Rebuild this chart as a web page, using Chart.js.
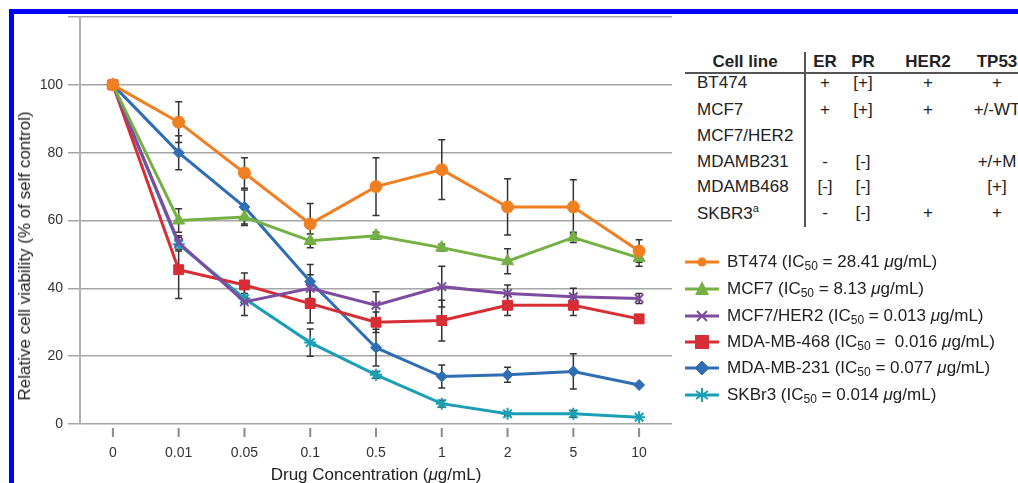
<!DOCTYPE html>
<html>
<head>
<meta charset="utf-8">
<script src="https://cdn.jsdelivr.net/npm/chart.js@4.4.0/dist/chart.umd.min.js"></script>
<style>
  body { margin: 0; background: #fff; font-family: "Liberation Sans", Arial, sans-serif; color: #222; }
  #wrap { position: relative; width: 1018px; height: 483px; overflow: hidden; }
  #plot { position: absolute; left: 0; top: 0; width: 690px; height: 483px; }
  #frame { position: absolute; left: 9px; top: 9px; width: 1020px; height: 480px;
    border-top: 5px solid #0000ff; border-left: 5px solid #0000ff; pointer-events: none; }
  #ytitle { position: absolute; left: 25px; top: 256px; font-size: 17px; white-space: nowrap;
    transform: translate(-50%, -50%) rotate(-90deg); color: #222; }
  #xtitle { position: absolute; left: 376px; top: 475px; font-size: 17px; white-space: nowrap;
    transform: translate(-50%, -50%); color: #222; }
  .t { position: absolute; font-size: 17px; white-space: nowrap; transform: translate(-50%, -50%); }
  .tl { position: absolute; font-size: 17px; white-space: nowrap; transform: translateY(-50%); }
  .hdr { font-weight: bold; }
  .rule { position: absolute; background: #555; }
  .leg { position: absolute; left: 685px; height: 20px; display: flex; align-items: center; font-size: 17px; white-space: nowrap; transform: translateY(-50%); }
  .leg svg { margin-right: 8px; }
  sub { font-size: 12px; vertical-align: -3px; line-height: 0; }
</style>
</head>
<body>
<div id="wrap">
  <div id="plot"><canvas id="chart"></canvas></div>
  <div id="ytitle">Relative cell viability (% of self control)</div>
  <div id="xtitle">Drug Concentration (<i>&mu;</i>g/mL)</div>
  <div id="table"></div>
  <div id="legend"></div>
  <div id="frame"></div>
</div>
<script>
// x categories (drug concentration, ug/mL)
const concentrations = ["0", "0.01", "0.05", "0.1", "0.5", "1", "2", "5", "10"];
const yTicks = [0, 20, 40, 60, 80, 100, 120];

// viability (% of self control) and error bars
const bt474 = [100, 89, 74, 59, 70, 75, 64, 64, 51];
const bt474Err = [0, 6, 4.5, 6, 8.5, 8.8, 8.3, 8, 3.3];
const mcf7 = [100, 60, 61, 54, 55.5, 52, 48, 55, 49];
const mcf7Err = [0, 3.5, 2.5, 2, 1, 1, 3.7, 1.5, 2.5];
const mcf7her2 = [100, 53.5, 36, 40, 35, 40.5, 38.5, 37.5, 37];
const mcf7her2Err = [0, 2, 4, 4, 4, 6, 2.5, 2.5, 1.5];
const mda468 = [100, 45.5, 41, 35.5, 30, 30.5, 35, 35, 31];
const mda468Err = [0, 8.5, 3.5, 5.7, 3, 6, 3, 3, 0];
const mda231 = [100, 80, 64, 42, 22.5, 14, 14.5, 15.5, 11.5];
const mda231Err = [0, 5, 5, 5, 5.4, 3.4, 2.2, 5.2, 0];
const skbr3 = [100, 53, 37, 24, 14.5, 6, 3, 3, 2];
const skbr3Err = [0, 2, 1.5, 4, 1, 1, 0.5, 1, 0];

const seriesNames = ["BT474", "MCF7", "MCF7/HER2", "MDA-MB-468", "MDA-MB-231", "SKBr3"];
const ic50 = ["28.41", "8.13", "0.013", "\u00a00.016", "0.077", "0.014"];

// table at top right
const tableCols = ["ER", "PR", "HER2", "TP53"];
const tableRows = ["BT474", "MCF7", "MCF7/HER2", "MDAMB231", "MDAMB468", "SKBR3<sup style='font-size:11px'>a</sup>"];
const tableCells = [
  ["+", "[+]", "+", "+"],
  ["+", "[+]", "+", "+/-WT"],
  ["", "", "", ""],
  ["-", "[-]", "", "+/+M"],
  ["[-]", "[-]", "", "[+]"],
  ["-", "[-]", "+", "+"],
];

const colors = ["#f07f22", "#74b043", "#7d4c9f", "#d72d35", "#2f6eb5", "#1a9fb5"];
const shapes = ["circle", "triangle", "crossRot", "rect", "rectRot", "star"];
const radii = [6, 7, 6, 7, 5.5, 6];
const allData = [bt474, mcf7, mcf7her2, mda468, mda231, skbr3];
const allErr = [bt474Err, mcf7Err, mcf7her2Err, mda468Err, mda231Err, skbr3Err];

const errorBars = {
  id: "errorBars",
  beforeDatasetsDraw(chart) {
    const { ctx, scales: { x, y } } = chart;
    ctx.save();
    ctx.strokeStyle = "#333";
    ctx.lineWidth = 1.5;
    allData.forEach((vals, i) => {
      vals.forEach((v, j) => {
        const e = allErr[i][j];
        if (!e) return;
        const px = x.getPixelForValue(j);
        const y1 = y.getPixelForValue(v + e);
        const y2 = y.getPixelForValue(v - e);
        ctx.beginPath();
        ctx.moveTo(px, y1); ctx.lineTo(px, y2);
        ctx.moveTo(px - 3.5, y1); ctx.lineTo(px + 3.5, y1);
        ctx.moveTo(px - 3.5, y2); ctx.lineTo(px + 3.5, y2);
        ctx.stroke();
      });
    });
    ctx.restore();
  },
};

// small detached tick marks under the x axis
const xTickMarks = {
  id: "xTickMarks",
  afterDraw(chart) {
    const { ctx, scales: { x }, chartArea } = chart;
    ctx.save();
    ctx.strokeStyle = "#8a8a8a";
    ctx.lineWidth = 2;
    concentrations.forEach((c, j) => {
      const px = x.getPixelForValue(j);
      ctx.beginPath();
      ctx.moveTo(px, chartArea.bottom + 4);
      ctx.lineTo(px, chartArea.bottom + 13);
      ctx.stroke();
    });
    ctx.restore();
  },
};

const chart = new Chart(document.getElementById("chart"), {
  type: "line",
  data: {
    labels: concentrations,
    datasets: allData.map((d, i) => ({
      label: seriesNames[i],
      data: d,
      borderColor: colors[i],
      backgroundColor: colors[i],
      borderWidth: 3,
      pointStyle: shapes[i],
      pointRadius: radii[i],
      pointBorderColor: colors[i],
      pointBackgroundColor: colors[i],
      pointBorderWidth: shapes[i] === "crossRot" || shapes[i] === "star" ? 2 : 1,
      tension: 0,
    })),
  },
  options: {
    responsive: true,
    maintainAspectRatio: false,
    animation: false,
    layout: { padding: { top: 17, right: 18, left: 0, bottom: 0 } },
    plugins: { legend: { display: false }, tooltip: { enabled: false } },
    scales: {
      x: {
        offset: true,
        afterFit: (s) => { s.height = 59; },
        grid: { display: false, drawTicks: false },
        border: { display: false },
        ticks: { color: "#333", padding: 21, font: { family: "Liberation Sans", size: 14 } },
      },
      y: {
        min: 0,
        max: 120,
        afterFit: (s) => { s.width = 80; },
        afterBuildTicks: (s) => { s.ticks = yTicks.map((v) => ({ value: v })); },
        grid: { color: "#a6a6a6", lineWidth: 1.5, tickLength: 12 },
        border: { color: "#b0b0b0", width: 2 },
        ticks: {
          color: "#333",
          padding: 5,
          font: { family: "Liberation Sans", size: 14 },
          callback: (v) => (v === 120 ? "" : v),
        },
      },
    },
  },
  plugins: [errorBars, xTickMarks],
});

// table
const table = document.getElementById("table");
let html = "";
const colX = [825, 863, 928, 997];
const rowY = [83, 110, 136, 162, 187, 213];
html += `<div class="t hdr" style="left:745px;top:62px">Cell line</div>`;
tableCols.forEach((c, k) => { html += `<div class="t hdr" style="left:${colX[k]}px;top:62px">${c}</div>`; });
tableRows.forEach((r, i) => {
  html += `<div class="tl" style="left:697px;top:${rowY[i]}px">${r}</div>`;
  tableCells[i].forEach((c, k) => {
    if (c) html += `<div class="t" style="left:${colX[k]}px;top:${rowY[i]}px">${c}</div>`;
  });
});
html += `<div class="rule" style="left:685px;top:72px;width:340px;height:1.5px"></div>`;
html += `<div class="rule" style="left:804px;top:52px;width:1.5px;height:175px"></div>`;
table.innerHTML = html;

// legend
function marker(i) {
  const c = colors[i];
  let m = "";
  if (shapes[i] === "circle") m = `<circle cx="17" cy="10" r="4.5" fill="${c}"/>`;
  else if (shapes[i] === "triangle") m = `<polygon points="17,2 24,16 10,16" fill="${c}"/>`;
  else if (shapes[i] === "crossRot") m = `<path d="M12 5 L22 15 M22 5 L12 15" stroke="${c}" stroke-width="2"/>`;
  else if (shapes[i] === "rect") m = `<rect x="10" y="3" width="14" height="14" fill="${c}"/>`;
  else if (shapes[i] === "rectRot") m = `<polygon points="17,3 24,10 17,17 10,10" fill="${c}" stroke="#2a5a9a" stroke-width="0.8"/>`;
  else m = `<path d="M17 3 L17 17 M11 6 L23 14 M23 6 L11 14" stroke="${c}" stroke-width="2"/>`;
  return `<svg width="34" height="20"><line x1="0" y1="10" x2="34" y2="10" stroke="${c}" stroke-width="3"/>${m}</svg>`;
}
const legY = [262, 289, 316, 342, 368, 395];
document.getElementById("legend").innerHTML = seriesNames.map((n, i) =>
  `<div class="leg" style="top:${legY[i]}px">${marker(i)}<span>${n} (IC<sub>50</sub> = ${ic50[i]} <i>\u03bc</i>g/mL)</span></div>`
).join("");
</script>
</body>
</html>
